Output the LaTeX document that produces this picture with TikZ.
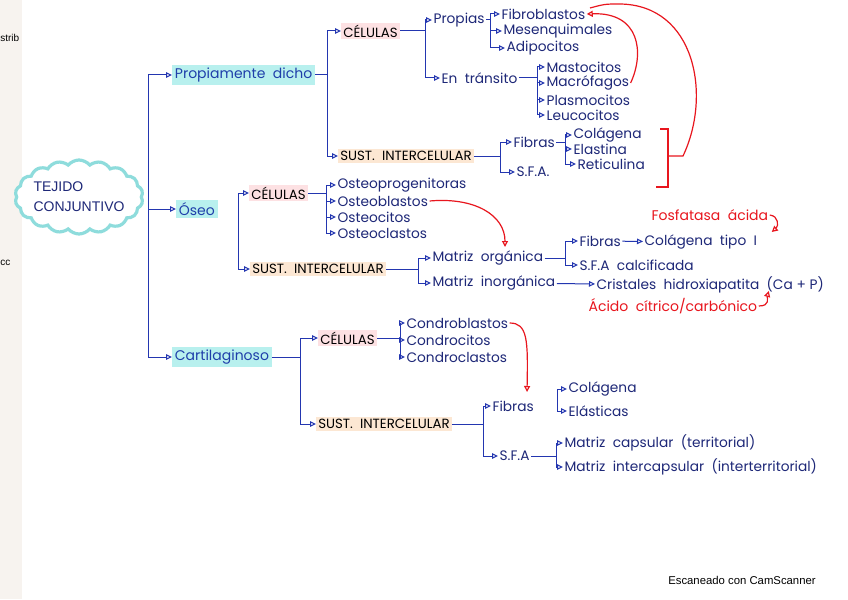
\documentclass[tikz,border=0pt]{standalone}
\usepackage{fontspec}
\setmainfont{Liberation Sans}
\newfontfamily\hand{Poppins}
\usetikzlibrary{arrows.meta,shapes.symbols,calc}
\definecolor{penblue}{HTML}{2336B0}
\definecolor{navy}{HTML}{1E2878}
\definecolor{titleblue}{HTML}{1F3FAA}
\definecolor{pred}{HTML}{E8161E}
\definecolor{cyanhl}{HTML}{B8F0EE}
\definecolor{cloudc}{HTML}{8EDCDC}
\definecolor{pinkhl}{HTML}{FDE1E3}
\definecolor{beigehl}{HTML}{FCE7D3}
\definecolor{strip}{HTML}{F7F3EF}
\begin{document}
\begin{tikzpicture}[x=0.75pt,y=-0.75pt,
  leaf/.style={anchor=west,inner sep=1pt,text=navy,font=\hand\fontsize{10.3}{12}\selectfont},
  head/.style={anchor=west,inner sep=1.5pt,text=black,font=\hand\fontsize{10}{12}\selectfont},
  celhl/.style={head,fill=pinkhl},
  susthl/.style={head,fill=beigehl},
  branch/.style={anchor=west,inner sep=2pt,text=titleblue,fill=cyanhl,font=\hand\fontsize{10.5}{12}\selectfont},
  redtext/.style={anchor=west,inner sep=1pt,text=pred,font=\hand\fontsize{10.5}{12}\selectfont},
  link/.style={draw=penblue,line width=0.75pt},
  conn/.style={link,-{Triangle[open,length=4.5pt,width=4.2pt,line width=0.75pt]}},
  redline/.style={draw=pred,line width=0.9pt},
  redarrow/.style={redline,-{Triangle[open,length=4.5pt,width=4.5pt,line width=0.9pt]}},
  side/.style={anchor=west,inner sep=0pt,text=black,font=\fontsize{7.5}{9}\selectfont},
]
\useasboundingbox (0,0) rectangle (848,599);
\fill[white] (0,0) rectangle (848,599);
\fill[strip] (0,0) rectangle (22,599);

% side texts
\node[side] (s1) at (0,38) {strib};
\node[side] (s2) at (0,263) {cc};
\node[anchor=west,inner sep=0pt,font=\fontsize{8.5}{10}\selectfont] (scan) at (668,580) {Escaneado con CamScanner};

% root
\node[cloud,cloud puffs=18,cloud puff arc=100,aspect=1.75,draw=cloudc,line width=2.4pt,fill=white,
      minimum width=128*0.75pt,minimum height=74*0.75pt,inner sep=0pt] (root) at (79,197) {};
\node[align=left,text=navy,inner sep=0pt,font=\fontsize{10.5}{15}\selectfont] (roottext) at (root.center) {TEJIDO\\CONJUNTIVO};

\coordinate (j0) at (148,209);
\node[branch] (prop) at (172,75) {Propiamente\ \ dicho};
\node[branch] (oseo) at (176,209) {Óseo};
\node[branch] (cart) at (172,357) {Cartilaginoso};
\foreach \c in {prop,oseo,cart} \draw[conn] (j0) |- (\c.west);

% ---------- Propiamente dicho
\coordinate (j1) at (327,75);
\node[celhl] (cel1) at (341,31) {CÉLULAS};
\node[susthl] (sust1) at (338,156) {SUST.\ \ INTERCELULAR};
\draw[link] (prop) -- (j1);
\foreach \c in {cel1,sust1} \draw[conn] (j1) |- (\c.west);

\coordinate (j2) at (425,31);
\node[leaf] (propias) at (432,20) {Propias};
\node[leaf] (trans) at (440,78) {En\ \ tránsito};
\draw[link] (cel1) -- (j2);
\foreach \c in {propias,trans} \draw[conn] (j2) |- (\c.west);

\coordinate (j3) at (490,20);
\node[leaf] (fibro) at (500,14) {Fibroblastos};
\node[leaf] (mesen) at (502,31) {Mesenquimales};
\node[leaf] (adipo) at (505,48) {Adipocitos};
\draw[link] (propias) -- (j3);
\foreach \c in {fibro,mesen,adipo} \draw[conn] (j3) |- (\c.west);

\coordinate (j4) at (537,78);
\node[leaf] (mast) at (545,67) {Mastocitos};
\node[leaf] (macro) at (545,83) {Macrófagos};
\node[leaf] (plasmo) at (545,100) {Plasmocitos};
\node[leaf] (leuco) at (545,115) {Leucocitos};
\draw[link] (trans) -- (j4);
\foreach \c in {mast,macro,plasmo,leuco} \draw[conn] (j4) |- (\c.west);

\coordinate (j5) at (500,156);
\node[leaf] (fibras1) at (512,142) {Fibras};
\node[leaf] (sfa1) at (515,172) {S.F.A.};
\draw[link] (sust1) -- (j5);
\foreach \c in {fibras1,sfa1} \draw[conn] (j5) |- (\c.west);

\coordinate (j6) at (565,142);
\node[leaf] (colag1) at (572,135) {Colágena};
\node[leaf] (elast) at (572,149) {Elastina};
\node[leaf] (retic) at (576,164) {Reticulina};
\draw[link] (fibras1) -- (j6);
\foreach \c in {colag1,elast,retic} \draw[conn] (j6) |- (\c.west);

% ---------- Oseo
\coordinate (j7) at (238,209);
\node[celhl] (cel2) at (249,193) {CÉLULAS};
\node[susthl] (sust2) at (250,269) {SUST.\ \ INTERCELULAR};
\foreach \c in {cel2,sust2} \draw[conn] (j7) |- (\c.west);

\coordinate (j8) at (326,193);
\node[leaf] (osp) at (336,185) {Osteoprogenitoras};
\node[leaf] (osb) at (336,201) {Osteoblastos};
\node[leaf] (osc) at (336,217) {Osteocitos};
\node[leaf] (oscl) at (336,233) {Osteoclastos};
\draw[link] (cel2) -- (j8);
\foreach \c in {osp,osb,osc,oscl} \draw[conn] (j8) |- (\c.west);

\coordinate (j9) at (418,269);
\node[leaf] (morg) at (431,258) {Matriz\ \ orgánica};
\node[leaf] (minorg) at (431,283) {Matriz\ \ inorgánica};
\draw[link] (sust2) -- (j9);
\foreach \c in {morg,minorg} \draw[conn] (j9) |- (\c.west);

\coordinate (j10) at (565,258);
\node[leaf] (fibras2) at (578,241) {Fibras};
\node[leaf] (sfacalc) at (578,265) {S.F.A\ \ calcificada};
\draw[link] (morg) -- (j10);
\foreach \c in {fibras2,sfacalc} \draw[conn] (j10) |- (\c.west);

\node[leaf] (colag2) at (643,242) {Colágena\ \ tipo\ \ I};
\draw[conn] (fibras2) -- (colag2);
\node[leaf] (crist) at (595,285) {Cristales\ \ hidroxiapatita\ \ (Ca + P)};
\draw[conn] (minorg) -- (crist);

% ---------- Cartilaginoso
\coordinate (j11) at (300,357);
\node[celhl] (cel3) at (318,338) {CÉLULAS};
\node[susthl] (sust3) at (316,424) {SUST.\ \ INTERCELULAR};
\draw[link] (cart) -- (j11);
\foreach \c in {cel3,sust3} \draw[conn] (j11) |- (\c.west);

\coordinate (j12) at (400,338);
\node[leaf] (cdb) at (405,323) {Condroblastos};
\node[leaf] (cdc) at (405,340) {Condrocitos};
\node[leaf] (cdcl) at (405,357) {Condroclastos};
\draw[link] (cel3) -- (j12);
\foreach \c in {cdb,cdc,cdcl} \draw[conn] (j12) |- (\c.west);

\coordinate (j13) at (483,424);
\node[leaf] (fibras3) at (491,406) {Fibras};
\node[leaf] (sfa3) at (498,456) {S.F.A};
\draw[link] (sust3) -- (j13);
\foreach \c in {fibras3,sfa3} \draw[conn] (j13) |- (\c.west);

\coordinate (j14) at (557,400);
\node[leaf] (colag3) at (567,389) {Colágena};
\node[leaf] (elastic) at (567,411) {Elásticas};
\foreach \c in {colag3,elastic} \draw[conn] (j14) |- (\c.west);

\coordinate (j15) at (556,456);
\node[leaf] (mcap) at (563,443) {Matriz\ \ capsular\ \ (territorial)};
\node[leaf] (minter) at (563,467) {Matriz\ \ intercapsular\ \ (interterritorial)};
\draw[link] (sfa3) -- (j15);
\foreach \c in {mcap,minter} \draw[conn] (j15) |- (\c.west);

% ---------- red annotations
\node[redtext] (fosf) at (650,215) {Fosfatasa\ \ ácida};
\node[redtext] (acid) at (587,306) {Ácido\ \ cítrico/carbónico};
\draw[redarrow] (fosf.east) .. controls ($(fosf.east)+(9,1)$) and ($(fosf.east)+(9,11)$) .. ($(fosf.east)+(2,17)$);
\draw[redarrow] (acid.east) .. controls ($(acid.east)+(12,0)$) and ($(acid.east)+(8,-8)$) .. ($(acid.east)+(10,-15)$);

\draw[redarrow] (osb.east) .. controls ($(osb.east)+(45,-4)$) and (505,215) .. (505,247);
\draw[redarrow] (cdb.east) .. controls ($(cdb.east)+(18,0)$) and (528,340) .. (527,392);

% bracket around colagena / elastina / reticulina
\coordinate (bt) at (668,129);
\coordinate (bb) at (668,187);
\coordinate (bm) at (668,156);
\draw[redline] (660,129) -- (bt) -- (bb) -- (656,187);
\draw[redline] (bm) -- (683,156) .. controls (712,95) and (695,5) .. (620,4) .. controls (605,4) .. (590,8);
\draw[redarrow] (macro.east) .. controls ($(macro.east)+(14,-30)$) and (640,12) .. (fibro.east);
\end{tikzpicture}
\end{document}
